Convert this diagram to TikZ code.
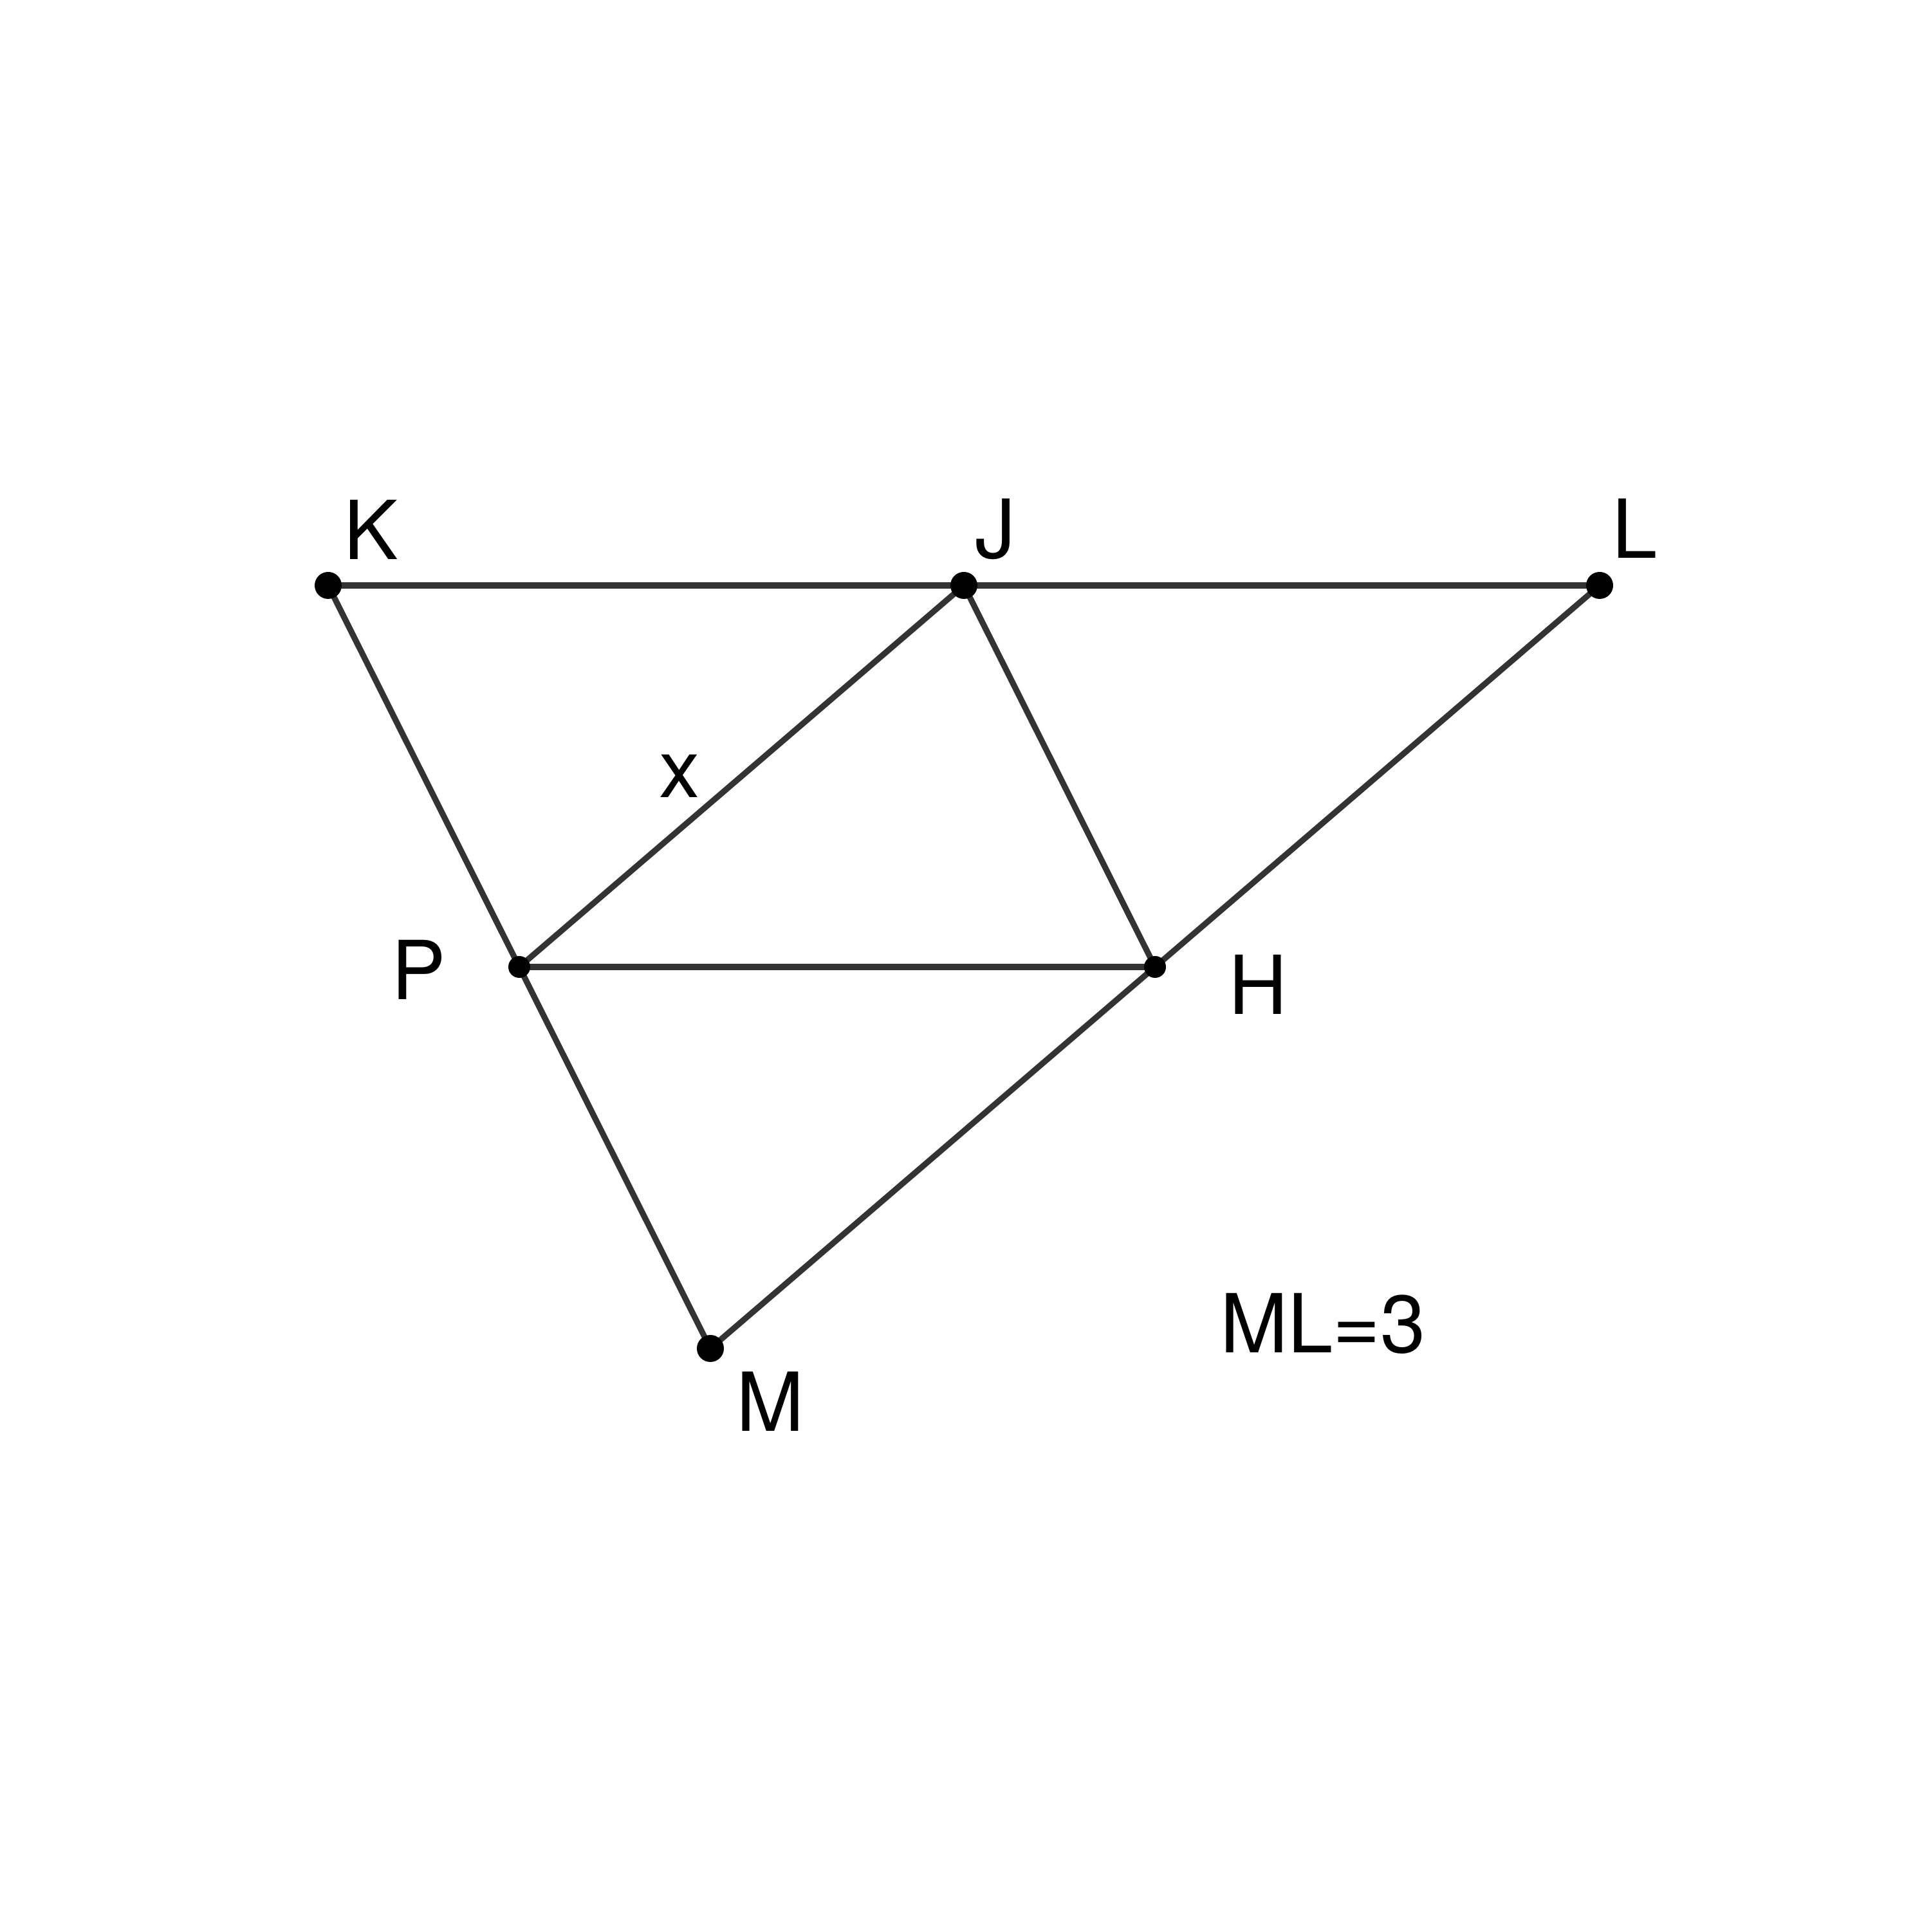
\documentclass[tikz,border=0pt]{standalone}
\usepackage{fontspec}
\setmainfont{TeX Gyre Heros}
\usetikzlibrary{calc}

\begin{document}
\begin{tikzpicture}[
  seg/.style={line width=1.3pt, black!80},
  lbl/.style={anchor=base, inner sep=0pt, font=\fontsize{18}{21}\selectfont},
]
  \useasboundingbox (0,0) rectangle (15,15.015);

  % Points
  \coordinate (K) at (2.55,10.465);
  \coordinate (L) at (12.43,10.465);
  \coordinate (M) at (5.52,4.535);
  \coordinate (J) at ($(K)!0.5!(L)$);
  \coordinate (P) at ($(K)!0.5!(M)$);
  \coordinate (H) at ($(L)!0.5!(M)$);

  % Segments
  \draw[seg] (K) -- (J);
  \draw[seg] (J) -- (L);
  \draw[seg] (K) -- (P);
  \draw[seg] (P) -- (M);
  \draw[seg] (L) -- (H);
  \draw[seg] (H) -- (M);
  \draw[seg] (P) -- (J);
  \draw[seg] (J) -- (H);
  \draw[seg] (P) -- (H);

  % Dots
  \foreach \p in {K,J,L,M}
    \fill (\p) circle (0.105);
  \foreach \p in {P,H}
    \fill (\p) circle (0.085);

  % Labels
  \node[lbl] (lK) at (2.885,10.665) {K};
  \node[lbl] (lJ) at (7.735,10.675) {J};
  \node[lbl] (lL) at (12.705,10.675) {L};
  \node[lbl] (lP) at (3.255,7.245) {P};
  \node[lbl] (lH) at (9.775,7.13) {H};
  \node[lbl] (lM) at (5.985,3.89) {M};
  \node[lbl] (lx) at (5.28,8.815) {x};
  \node[lbl] (note) at (10.28,4.5) {ML=3};
\end{tikzpicture}
\end{document}
